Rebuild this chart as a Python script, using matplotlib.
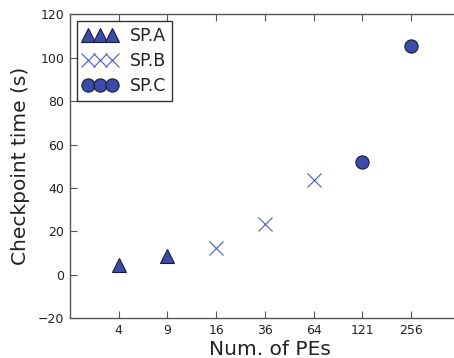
import numpy as np
import matplotlib
matplotlib.use("Agg")
import matplotlib.pyplot as plt

# tick labels (number of PEs) and checkpoint times
pe_labels = ["4", "9", "16", "36", "64", "121", "256"]
sp_a_pos = [1, 2]
sp_a_time = [4.7, 8.5]
sp_b_pos = [3, 4, 5]
sp_b_time = [12.3, 23.4, 43.7]
sp_c_pos = [6, 7]
sp_c_time = [52.2, 105.5]

fig = plt.figure(figsize=(4.54, 3.58), dpi=100)
ax = fig.add_axes([0.154, 0.111, 0.88, 0.849])

blue = '#3a4ca8'
ax.plot(sp_a_pos, sp_a_time, linestyle='None', marker='^', markersize=9.5,
        markerfacecolor=blue, markeredgecolor='#1a1a3a', markeredgewidth=0.8, label='SP.A')
ax.plot(sp_b_pos, sp_b_time, linestyle='None', marker='x', markersize=10.5,
        markeredgecolor='#4a5cb8', markeredgewidth=0.8, label='SP.B')
ax.plot(sp_c_pos, sp_c_time, linestyle='None', marker='o', markersize=9.5,
        markerfacecolor=blue, markeredgecolor='#1a1a3a', markeredgewidth=0.8, label='SP.C')

# ~48.7 px per category, right edge runs off the picture
ax.set_xlim(0, 8.2)
ax.set_ylim(-20, 120)
ax.set_xticks(range(1, len(pe_labels) + 1))
ax.set_xticklabels(pe_labels)
ax.set_yticks(np.arange(-20, 121, 20))

for s in ax.spines.values():
    s.set_color('#555555')
    s.set_linewidth(1.0)
ax.spines['right'].set_visible(False)
ax.tick_params(direction='in', top=True, right=False, length=5, width=0.8,
               color='#555555', labelsize=9, labelcolor='#222222', pad=4)

ax.set_xlabel('Num. of PEs', fontsize=14.5, color='#222222', labelpad=2)
ax.set_ylabel('Checkpoint time (s)', fontsize=14.5, color='#222222', labelpad=6)

leg = ax.legend(loc='upper left', numpoints=3, fontsize=12.5, fancybox=False,
                handletextpad=0.7, borderpad=0.35, labelspacing=0.4,
                handlelength=2.0, borderaxespad=0.4)
frame = leg.get_frame()
frame.set_edgecolor('black')
frame.set_linewidth(1.0)
for t in leg.get_texts():
    t.set_color('#222222')

fig.savefig('out.png', dpi=100)
